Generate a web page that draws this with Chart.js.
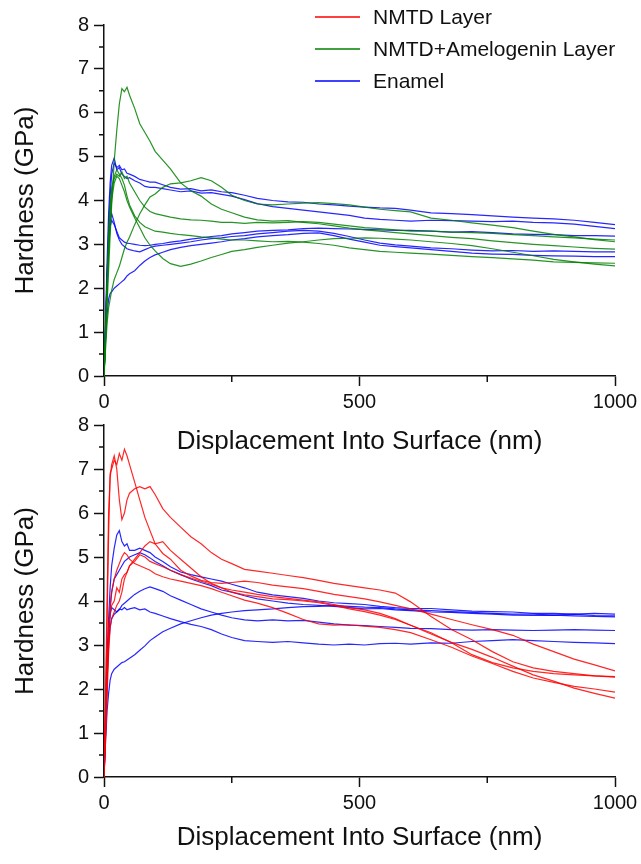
<!DOCTYPE html>
<html><head><meta charset="utf-8">
<script src="https://cdn.jsdelivr.net/npm/chart.js@4.4.1/dist/chart.umd.min.js"></script>
<style>
html,body{margin:0;padding:0;background:#fff;width:641px;height:864px;overflow:hidden;}
#w1{position:absolute;left:0;top:0;width:641px;height:470px;}
#w2{position:absolute;left:0;top:400px;width:641px;height:464px;}
</style></head><body>
<div id="w1"><canvas id="c1"></canvas></div>
<div id="w2"><canvas id="c2"></canvas></div>
<script>
// ---- data ----
const seriesNames = ['NMTD Layer', 'NMTD+Amelogenin Layer', 'Enamel'];
const depth = [0,3,6,9,12,15,20,25,30,35,40,45,50,60,70,80,90,100,115,130,150,170,190,210,230,250,275,300,330,360,390,420,450,480,510,540,570,600,640,680,720,760,800,840,880,920,960,1000];
const xTicks = [0, 500, 1000];
const yTicks = [0,1,2,3,4,5,6,7,8];

// top panel: NMTD+Amelogenin (green)
const topGreen1 = [0,0.8,1.6,2.4,3.2,3.9,4.9,5.6,6.2,6.55,6.48,6.58,6.4,6.1,5.75,5.55,5.35,5.12,4.92,4.72,4.4,4.22,4.1,3.92,3.8,3.72,3.62,3.56,3.53,3.54,3.5,3.47,3.42,3.37,3.33,3.3,3.27,3.24,3.2,3.16,3.13,3.08,3.04,3.0,2.97,2.94,2.91,2.89];
const topGreen2 = [0,0.6,1.2,1.55,1.75,1.95,2.2,2.35,2.5,2.7,2.9,3.05,3.17,3.45,3.7,3.9,4.08,4.15,4.3,4.38,4.4,4.45,4.52,4.45,4.3,4.12,4.0,3.92,3.9,3.92,3.94,3.95,3.93,3.9,3.85,3.8,3.77,3.74,3.6,3.55,3.49,3.44,3.38,3.3,3.23,3.17,3.11,3.06];
const topGreen3 = [0,0.9,1.9,2.8,3.5,4.0,4.4,4.55,4.5,4.35,4.2,4.0,3.85,3.6,3.38,3.15,2.98,2.85,2.68,2.56,2.5,2.55,2.62,2.7,2.77,2.84,2.88,2.93,2.98,3.03,3.06,3.1,3.13,3.14,3.15,3.14,3.12,3.1,3.06,3.02,2.97,2.9,2.82,2.74,2.66,2.6,2.55,2.51];
const topGreen4 = [0,1.1,2.2,3.2,3.9,4.3,4.55,4.7,4.6,4.5,4.35,4.1,3.9,3.65,3.5,3.4,3.35,3.3,3.28,3.25,3.22,3.2,3.17,3.15,3.12,3.1,3.1,3.08,3.06,3.07,3.05,3.02,2.98,2.92,2.88,2.84,2.82,2.8,2.78,2.75,2.72,2.7,2.67,2.64,2.6,2.59,2.58,2.57];
const topGreen5 = [0,1.0,2.0,3.0,3.7,4.2,4.5,4.6,4.55,4.65,4.5,4.55,4.4,4.2,4.0,3.85,3.75,3.7,3.66,3.62,3.58,3.56,3.55,3.53,3.5,3.5,3.48,3.5,3.49,3.5,3.52,3.5,3.46,3.42,3.38,3.36,3.33,3.3,3.3,3.28,3.27,3.25,3.22,3.2,3.17,3.15,3.12,3.1];
// top panel: Enamel (blue)
const topBlue1 = [0,1.0,2.2,3.3,4.1,4.6,4.85,4.75,4.8,4.7,4.72,4.62,4.6,4.55,4.48,4.45,4.42,4.42,4.36,4.3,4.26,4.27,4.22,4.24,4.2,4.18,4.12,4.05,4.0,3.97,3.96,3.92,3.9,3.87,3.85,3.83,3.82,3.78,3.72,3.7,3.68,3.65,3.62,3.6,3.58,3.55,3.5,3.45];
const topBlue2 = [0,1.2,2.6,3.7,4.4,4.8,4.97,4.7,4.75,4.6,4.55,4.5,4.52,4.45,4.4,4.32,4.3,4.3,4.27,4.24,4.2,4.22,4.17,4.18,4.14,4.1,4.02,3.93,3.86,3.82,3.78,3.74,3.7,3.66,3.6,3.57,3.55,3.53,3.55,3.54,3.53,3.52,3.53,3.5,3.49,3.46,3.41,3.36];
const topBlue3 = [0,1.0,2.1,2.9,3.4,3.55,3.45,3.3,3.15,3.1,3.05,3.03,3.02,3.0,2.98,2.97,2.98,3.0,3.02,3.05,3.08,3.12,3.15,3.18,3.2,3.24,3.27,3.3,3.32,3.33,3.36,3.37,3.36,3.35,3.34,3.33,3.32,3.32,3.3,3.28,3.29,3.27,3.24,3.23,3.22,3.2,3.2,3.19];
const topBlue4 = [0,1.1,2.3,3.1,3.5,3.7,3.5,3.25,3.1,3.0,2.95,2.9,2.88,2.85,2.83,2.88,2.93,2.96,2.98,3.0,3.03,3.06,3.1,3.13,3.15,3.18,3.2,3.24,3.27,3.3,3.32,3.3,3.25,3.18,3.1,3.03,2.99,2.96,2.92,2.9,2.87,2.85,2.86,2.84,2.85,2.84,2.83,2.83];
const topBlue5 = [0,0.8,1.4,1.75,1.88,1.92,2.0,2.05,2.1,2.15,2.2,2.28,2.33,2.4,2.52,2.62,2.7,2.76,2.82,2.88,2.93,2.97,3.0,3.03,3.06,3.1,3.13,3.17,3.2,3.22,3.25,3.26,3.2,3.12,3.05,2.98,2.95,2.92,2.88,2.84,2.8,2.78,2.77,2.75,2.74,2.73,2.72,2.72];

// bottom panel: NMTD Layer (red)
const botRed1 = [0,1.5,3.5,5.5,6.9,7.0,7.2,7.1,7.35,7.2,7.45,7.3,7.1,6.7,6.3,5.9,5.6,5.3,5.08,4.95,4.7,4.57,4.47,4.42,4.4,4.42,4.45,4.42,4.36,4.32,4.28,4.22,4.15,4.1,4.05,3.98,3.9,3.82,3.7,3.58,3.46,3.35,3.22,3.02,2.85,2.68,2.55,2.41];
const botRed2 = [0,1.8,4.0,6.0,6.8,7.1,7.3,7.0,6.3,5.85,6.0,6.3,6.45,6.55,6.6,6.55,6.6,6.42,6.1,5.9,5.68,5.46,5.3,5.1,4.95,4.85,4.72,4.68,4.63,4.58,4.53,4.47,4.4,4.35,4.3,4.25,4.18,3.98,3.65,3.35,3.12,2.85,2.62,2.48,2.4,2.35,2.3,2.27];
const botRed3 = [0,1.2,2.6,3.4,3.7,3.9,4.0,4.3,4.2,4.5,4.6,4.65,4.8,4.95,5.1,5.25,5.35,5.3,5.35,5.15,4.95,4.75,4.55,4.4,4.3,4.2,4.14,4.1,4.05,4.03,4.0,3.96,3.9,3.82,3.76,3.68,3.58,3.45,3.28,3.05,2.78,2.6,2.48,2.4,2.35,2.32,2.3,2.28];
const botRed4 = [0,1.0,2.2,3.2,3.9,4.2,4.5,4.7,4.85,5.0,5.1,5.05,4.95,4.85,4.8,4.75,4.7,4.62,4.55,4.5,4.45,4.4,4.35,4.28,4.2,4.12,4.02,3.95,3.85,3.72,3.58,3.48,3.45,3.46,3.43,3.4,3.35,3.28,3.12,2.95,2.75,2.58,2.4,2.25,2.15,2.06,2.0,1.93];
const botRed5 = [0,0.8,1.8,2.8,3.4,3.6,3.75,3.9,4.0,4.2,4.5,4.65,4.8,4.9,5.05,5.0,4.9,4.85,4.78,4.7,4.6,4.52,4.45,4.38,4.3,4.25,4.2,4.15,4.1,4.06,4.02,3.98,3.92,3.85,3.8,3.72,3.6,3.45,3.25,3.06,2.9,2.72,2.52,2.32,2.18,2.02,1.9,1.79];
// bottom panel: Enamel (blue)
const botBlue1 = [0,1.5,2.8,3.6,4.3,4.8,5.2,5.5,5.6,5.35,5.25,5.3,5.15,5.15,5.2,5.15,5.1,5.0,4.9,4.78,4.66,4.6,4.55,4.5,4.45,4.38,4.3,4.2,4.14,4.1,4.06,4.0,3.96,3.94,3.92,3.88,3.85,3.83,3.83,3.8,3.77,3.76,3.75,3.72,3.72,3.7,3.72,3.7];
const botBlue2 = [0,1.0,2.2,3.2,3.8,4.2,4.5,4.6,4.7,4.8,4.9,4.95,5.0,5.05,5.1,5.05,4.98,4.9,4.8,4.7,4.6,4.5,4.42,4.35,4.25,4.2,4.12,4.05,4.0,3.95,3.92,3.9,3.88,3.85,3.82,3.83,3.8,3.78,3.75,3.74,3.72,3.7,3.68,3.67,3.68,3.66,3.65,3.64];
const botBlue3 = [0,1.0,2.2,3.0,3.4,3.6,3.7,3.75,3.8,3.9,3.95,4.0,4.05,4.15,4.22,4.28,4.32,4.28,4.22,4.12,4.02,3.92,3.82,3.75,3.68,3.62,3.57,3.55,3.57,3.55,3.56,3.52,3.48,3.45,3.44,3.42,3.4,3.38,3.37,3.35,3.34,3.35,3.34,3.33,3.34,3.35,3.34,3.33];
const botBlue4 = [0,0.8,1.5,1.9,2.2,2.35,2.45,2.5,2.55,2.6,2.62,2.66,2.7,2.78,2.88,2.98,3.1,3.18,3.3,3.38,3.48,3.55,3.62,3.68,3.72,3.75,3.78,3.8,3.82,3.85,3.87,3.88,3.9,3.88,3.86,3.85,3.82,3.8,3.78,3.76,3.74,3.72,3.7,3.7,3.68,3.7,3.67,3.66];
const botBlue5 = [0,1.2,2.4,3.2,3.7,3.85,3.8,3.75,3.82,3.8,3.85,3.8,3.82,3.85,3.8,3.82,3.75,3.72,3.66,3.6,3.53,3.47,3.42,3.35,3.25,3.17,3.1,3.08,3.06,3.08,3.05,3.02,3.0,3.02,3.0,3.03,3.04,3.02,3.05,3.04,3.08,3.1,3.12,3.1,3.08,3.06,3.05,3.03];

const minorY = [0.5,1.5,2.5,3.5,4.5,5.5,6.5,7.5];
const minorX = [250, 750];

// ---- style ----
const RED = 'rgba(255,0,0,0.85)';
const GREEN = 'rgba(0,128,0,0.85)';
const BLUE = 'rgba(0,0,255,0.85)';
const legendColors = ['#ff0000', '#008000', '#0000ff'];
const FONT = "'Liberation Sans', Arial, sans-serif";
const INK = '#111';

function pts(ys) { return depth.map((d, i) => ({x: d, y: ys[i]})); }
function ds(ys, color, label) {
  return {label: label, data: pts(ys), borderColor: color, borderWidth: 1.2, pointRadius: 0, fill: false, tension: 0};
}

const minorTicks = {
  id: 'minorTicks',
  afterDraw(chart) {
    const {ctx, chartArea, scales} = chart;
    ctx.save();
    ctx.strokeStyle = INK; ctx.lineWidth = 1.5;
    ctx.beginPath();
    minorY.forEach(v => { const p = scales.y.getPixelForValue(v); ctx.moveTo(chartArea.left - 5, p); ctx.lineTo(chartArea.left, p); });
    minorX.forEach(v => { const p = scales.x.getPixelForValue(v); ctx.moveTo(p, chartArea.bottom); ctx.lineTo(p, chartArea.bottom + 6); });
    ctx.stroke();
    ctx.restore();
  }
};

const legendPlugin = {
  id: 'customLegend',
  afterDraw(chart) {
    const ctx = chart.ctx;
    ctx.save();
    ctx.font = '21px ' + FONT;
    ctx.textBaseline = 'middle';
    ctx.textAlign = 'left';
    seriesNames.forEach((name, i) => {
      const y = 17 + i * 32;
      ctx.strokeStyle = legendColors[i]; ctx.lineWidth = 1.6;
      ctx.beginPath(); ctx.moveTo(315, y); ctx.lineTo(360, y); ctx.stroke();
      ctx.fillStyle = INK;
      ctx.fillText(name, 373, y + 1);
    });
    ctx.restore();
  }
};

function makeOptions(xHeight, titlePadBottom) {
  return {
    responsive: true, maintainAspectRatio: false, animation: false,
    layout: {padding: {top: 25, right: 26, left: 0, bottom: 0}},
    plugins: {legend: {display: false}, tooltip: {enabled: false}},
    scales: {
      x: {
        type: 'linear', min: 0, max: 1000,
        afterBuildTicks: s => { s.ticks = xTicks.map(v => ({value: v})); },
        ticks: {color: INK, font: {family: FONT, size: 20}, padding: 4, maxRotation: 0, autoSkip: false, callback: v => String(v)},
        grid: {drawOnChartArea: false, drawTicks: true, tickLength: 10, tickColor: INK, tickWidth: 1.5},
        border: {color: INK, width: 1.5},
        title: {display: true, text: 'Displacement Into Surface (nm)', color: INK, font: {family: FONT, size: 26}, padding: {top: 0, bottom: titlePadBottom}},
        afterFit: s => { s.height = xHeight; s.paddingRight = 0; }
      },
      y: {
        type: 'linear', min: 0, max: 8,
        afterBuildTicks: s => { s.ticks = yTicks.map(v => ({value: v})); },
        ticks: {color: INK, font: {family: FONT, size: 20}, padding: 5, autoSkip: false, callback: v => String(v)},
        grid: {drawOnChartArea: false, drawTicks: true, tickLength: 10, tickColor: INK, tickWidth: 1.5},
        border: {color: INK, width: 1.5},
        title: {display: true, text: 'Hardness (GPa)', color: INK, font: {family: FONT, size: 26}, padding: {top: 10, bottom: 0}},
        afterFit: s => { s.width = 104; }
      }
    }
  };
}

new Chart(document.getElementById('c1'), {
  type: 'line',
  data: {datasets: [
    ds(topGreen1, GREEN, seriesNames[1]), ds(topGreen2, GREEN, seriesNames[1]), ds(topGreen3, GREEN, seriesNames[1]),
    ds(topGreen4, GREEN, seriesNames[1]), ds(topGreen5, GREEN, seriesNames[1]),
    ds(topBlue1, BLUE, seriesNames[2]), ds(topBlue2, BLUE, seriesNames[2]), ds(topBlue3, BLUE, seriesNames[2]),
    ds(topBlue4, BLUE, seriesNames[2]), ds(topBlue5, BLUE, seriesNames[2])
  ]},
  options: makeOptions(94, 13),
  plugins: [minorTicks, legendPlugin]
});

new Chart(document.getElementById('c2'), {
  type: 'line',
  data: {datasets: [
    ds(botRed1, RED, seriesNames[0]), ds(botRed2, RED, seriesNames[0]), ds(botRed3, RED, seriesNames[0]),
    ds(botRed4, RED, seriesNames[0]), ds(botRed5, RED, seriesNames[0]),
    ds(botBlue1, BLUE, seriesNames[2]), ds(botBlue2, BLUE, seriesNames[2]), ds(botBlue3, BLUE, seriesNames[2]),
    ds(botBlue4, BLUE, seriesNames[2]), ds(botBlue5, BLUE, seriesNames[2])
  ]},
  options: makeOptions(87, 11),
  plugins: [minorTicks]
});
</script>
</body></html>
